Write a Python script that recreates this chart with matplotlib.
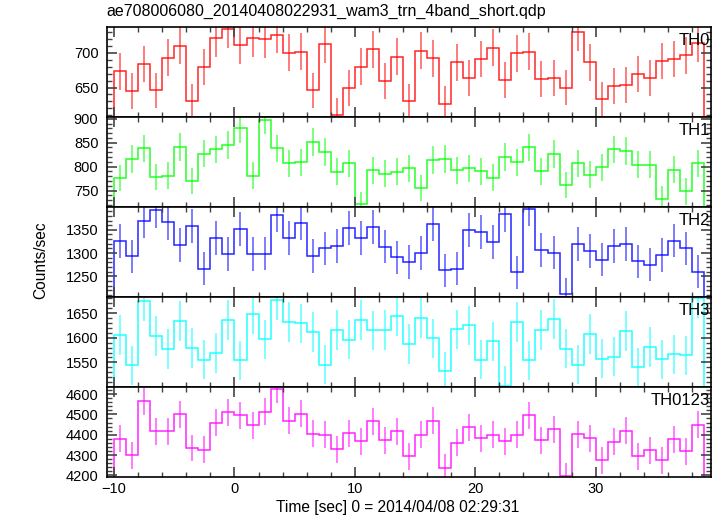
import matplotlib.pyplot as plt
from matplotlib.ticker import MultipleLocator
import numpy as np

plt.rcParams['font.family'] = ['Liberation Sans', 'DejaVu Sans']

title = 'ae708006080_20140408022931_wam3_trn_4band_short.qdp'
xlabel = 'Time [sec] 0 = 2014/04/08 02:29:31'
ylabel = 'Counts/sec'

# 1 s bins, starting at -10 s
t_start = -10
bin_size = 1

names = ['TH0', 'TH1', 'TH2', 'TH3', 'TH0123']
colors = ['#ff0000', '#00ff00', '#0000ff', '#00ffff', '#ff00ff']

th0 = [673, 645, 684, 646, 693, 710, 630, 679, 721, 734, 711, 721, 719, 726, 700, 701,
       646, 712, 610, 649, 680, 705, 659, 694, 630, 703, 692, 627, 686, 664, 691, 707,
       661, 699, 701, 662, 663, 650, 730, 686, 633, 652, 654, 670, 663, 688, 691, 696, 714]
th1 = [776, 816, 838, 778, 781, 841, 770, 827, 836, 845, 880, 781, 898, 838, 807, 809,
       851, 830, 789, 807, 721, 792, 785, 789, 797, 756, 814, 816, 792, 797, 790, 777,
       820, 809, 840, 790, 826, 761, 807, 783, 799, 836, 833, 804, 804, 732, 793, 748, 807]
th2 = [1326, 1293, 1369, 1392, 1366, 1318, 1359, 1266, 1332, 1298, 1351, 1298, 1299, 1382,
       1332, 1364, 1294, 1310, 1315, 1354, 1332, 1356, 1314, 1291, 1281, 1300, 1362, 1263,
       1266, 1349, 1345, 1323, 1383, 1259, 1395, 1306, 1301, 1211, 1319, 1304, 1286, 1316,
       1319, 1282, 1275, 1296, 1327, 1310, 1260]
th3 = [1606, 1544, 1674, 1604, 1577, 1634, 1579, 1555, 1569, 1636, 1554, 1649, 1597, 1677,
       1632, 1629, 1612, 1545, 1616, 1596, 1636, 1615, 1616, 1645, 1587, 1640, 1599, 1532,
       1617, 1625, 1555, 1593, 1503, 1632, 1554, 1616, 1638, 1578, 1545, 1608, 1557, 1561,
       1614, 1540, 1581, 1556, 1566, 1564, 1680]
th0123 = [4381, 4299, 4564, 4416, 4416, 4500, 4335, 4327, 4460, 4511, 4496, 4447, 4514, 4623,
          4470, 4503, 4406, 4399, 4328, 4407, 4368, 4467, 4373, 4417, 4294, 4401, 4468, 4238,
          4361, 4437, 4383, 4399, 4368, 4399, 4495, 4373, 4427, 4198, 4403, 4383, 4274, 4366,
          4419, 4294, 4323, 4274, 4378, 4319, 4449]

series = [th0, th1, th2, th3, th0123]
ylims = [(608, 737), (716, 904), (1206, 1399.5), (1500.5, 1683), (4193, 4636)]
majors = [50, 50, 50, 50, 100]
minors = [10, 10, 10, 10, 20]

fig, axes = plt.subplots(nrows=5, sharex=True, figsize=(7.17, 5.16), dpi=100)
fig.subplots_adjust(left=0.149, right=0.992, top=0.948, bottom=0.076, hspace=0)

for ax, name, col, vals, ylim, mj, mn in zip(axes, names, colors, series, ylims, majors, minors):
	rate = np.array(vals, dtype=float)
	edges = t_start + bin_size * np.arange(len(rate) + 1)
	centers = edges[:-1] + bin_size / 2
	# poisson error for 1 s bins
	err = np.sqrt(rate * bin_size) / bin_size
	ax.stairs(rate, edges, color=col, lw=1.1, alpha=0.85)
	ax.vlines(centers, rate - err, rate + err, color=col, lw=1.2, alpha=0.6)
	ax.set_ylim(*ylim)
	ax.yaxis.set_major_locator(MultipleLocator(mj))
	ax.yaxis.set_minor_locator(MultipleLocator(mn))
	ax.xaxis.set_major_locator(MultipleLocator(10))
	ax.xaxis.set_minor_locator(MultipleLocator(2))
	ax.tick_params(which='both', direction='in', top=True, right=True, colors='#444444',
		labelcolor='black', labelsize=10.5)
	ax.tick_params(axis='y', which='major', pad=6)
	ax.tick_params(which='major', length=7, width=1.2)
	ax.tick_params(which='minor', length=3.5, width=1)
	for s in ax.spines.values():
		s.set_linewidth(1.2)
	ax.text(0.998, 0.93, name, transform=ax.transAxes, ha='right', va='top', fontsize=12)

axes[-1].set_xlim(-10.6, 39.6)
fig.text(0.554, 0.017, xlabel, ha='center', va='center', fontsize=11.2)
fig.text(0.057, 0.496, ylabel, rotation=90, ha='center', va='center', fontsize=11.2)
fig.text(0.149, 0.978, title, ha='left', va='center', fontsize=11.5)

plt.savefig('out.png')
